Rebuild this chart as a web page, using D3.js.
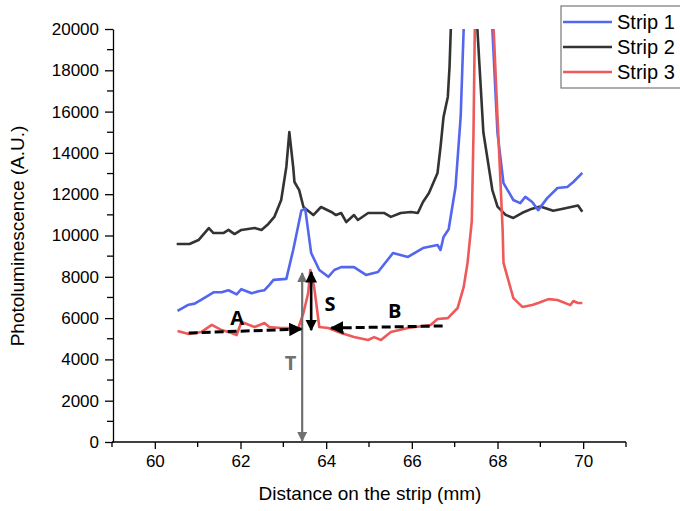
<!DOCTYPE html>
<html>
<head>
<meta charset="utf-8">
<script src="https://cdn.jsdelivr.net/npm/d3@7"></script>
<style>
  body { margin: 0; background: #fff; }
  svg { display: block; font-family: "Liberation Sans", Arial, sans-serif; }
</style>
</head>
<body>
<svg width="680" height="511"></svg>
<script>
// distance (mm) and photoluminescence values
let strip1X = [60.53, 60.79, 60.93, 61.09, 61.37, 61.56, 61.72, 61.91, 62.02, 62.26, 62.42, 62.56, 62.67, 62.77, 63.07, 63.23, 63.35, 63.42, 63.51, 63.65, 63.84, 64.05, 64.19, 64.35, 64.65, 64.93, 65.21, 65.56, 65.91, 66.26, 66.60, 66.67, 66.74, 66.86, 67.02, 67.14, 67.21, 67.55, 67.88, 68.0, 68.14, 68.37, 68.53, 68.65, 68.81, 68.95, 69.16, 69.40, 69.63, 69.77, 69.98]
let strip1Y = [6350, 6650, 6700, 6900, 7250, 7250, 7350, 7150, 7400, 7200, 7300, 7350, 7600, 7850, 7900, 9300, 10500, 11200, 11300, 9150, 8330, 8000, 8330, 8470, 8470, 8090, 8230, 9150, 8960, 9390, 9540, 9300, 9930, 10300, 12350, 15740, 20000, 30000, 20000, 14960, 12540, 11720, 11570, 11870, 11620, 11230, 11810, 12300, 12350, 12590, 13030]

let strip2X = [60.51, 60.81, 61.02, 61.26, 61.37, 61.60, 61.72, 61.86, 62.02, 62.33, 62.49, 62.65, 62.79, 62.95, 63.07, 63.14, 63.23, 63.26, 63.37, 63.47, 63.70, 63.88, 64.12, 64.23, 64.35, 64.47, 64.65, 64.74, 64.98, 65.35, 65.51, 65.74, 65.98, 66.14, 66.26, 66.40, 66.60, 66.67, 66.74, 66.84, 66.88, 66.91, 67.2, 67.53, 67.67, 67.88, 68.0, 68.19, 68.37, 68.58, 68.81, 69.0, 69.30, 69.53, 69.77, 69.88, 69.98]
let strip2Y = [9590, 9590, 9780, 10360, 10120, 10120, 10270, 10070, 10270, 10360, 10270, 10560, 10900, 11720, 13320, 15010, 13320, 12590, 12200, 11380, 10990, 11380, 11140, 10990, 11090, 10650, 10990, 10750, 11090, 11090, 10900, 11090, 11140, 11090, 11620, 12060, 13030, 14290, 15740, 16710, 18160, 20000, 30000, 20000, 15000, 12200, 11400, 11000, 10850, 11100, 11300, 11400, 11200, 11300, 11400, 11450, 11150]

let strip3X = [60.53, 60.79, 61.09, 61.33, 61.56, 61.79, 61.91, 62.02, 62.33, 62.56, 62.67, 62.95, 63.35, 63.47, 63.58, 63.63, 63.72, 63.84, 64.05, 64.35, 64.65, 64.98, 65.12, 65.28, 65.51, 65.91, 66.44, 66.60, 66.84, 67.07, 67.21, 67.30, 67.40, 67.44, 67.47, 67.68, 67.91, 68.0, 68.12, 68.14, 68.37, 68.58, 68.81, 68.95, 69.19, 69.40, 69.70, 69.77, 69.88, 69.98]
let strip3Y = [5375, 5230, 5330, 5670, 5420, 5280, 5180, 5810, 5570, 5760, 5570, 5520, 5520, 6250, 7215, 8330, 7500, 5570, 5520, 5280, 5080, 4940, 5080, 4940, 5330, 5520, 5670, 5960, 6000, 6490, 7500, 8670, 10700, 15000, 20000, 30000, 20000, 15740, 10270, 8670, 6970, 6540, 6630, 6730, 6920, 6880, 6630, 6830, 6730, 6730]

let names = ["Strip 1", "Strip 2", "Strip 3"]
let colors = ["#5566ee", "#333333", "#ee5a5a"]

let xTicks = [60, 62, 64, 66, 68, 70]
let yTicks = [0, 2000, 4000, 6000, 8000, 10000, 12000, 14000, 16000, 18000, 20000]

// annotation arrows (mm, value)
let arrowA = [[60.79, 5280], [63.42, 5470]]
let arrowB = [[66.72, 5620], [64.12, 5520]]
let arrowS = [63.65, 8230, 5420]
let arrowT = [63.44, 8180, 0]

var svg = d3.select("svg")

var x = d3.scaleLinear().domain([59, 71]).range([112, 626])
var y = d3.scaleLinear().domain([0, 20000]).range([442, 29])

// arrowheads
var defs = svg.append("defs")
function marker(id, color) {
  defs.append("marker")
    .attr("id", id)
    .attr("viewBox", "0 0 10 10")
    .attr("refX", 9).attr("refY", 5)
    .attr("markerWidth", 4.5).attr("markerHeight", 4.5)
    .attr("markerUnits", "strokeWidth")
    .attr("orient", "auto-start-reverse")
    .append("path")
    .attr("d", "M0,0 L10,5 L0,10 z")
    .attr("fill", color)
}
marker("headK", "#000")
marker("headG", "#707070")

defs.append("clipPath").attr("id", "plot")
  .append("rect").attr("x", 112).attr("y", 29).attr("width", 514).attr("height", 413)

// axes
var xAxis = d3.axisBottom(x).tickValues(xTicks).tickSize(7).tickSizeOuter(0).tickPadding(6)
var gx = svg.append("g").attr("transform", "translate(0,442)").call(xAxis)
gx.selectAll(".tick text").attr("font-size", 17).attr("font-family", "Liberation Sans, Arial, sans-serif")
gx.selectAll("line").attr("stroke-width", 1.3)
gx.select(".domain").attr("stroke-width", 1.3).attr("d", "M" + x(59) + ",0H" + x(71))
gx.selectAll(".minor").data([59, 61, 63, 65, 67, 69, 71]).enter().append("line")
  .attr("x1", d => x(d)).attr("x2", d => x(d)).attr("y1", 0).attr("y2", 5)
  .attr("stroke", "#000").attr("stroke-width", 1.3)

var yAxis = d3.axisLeft(y).tickValues(yTicks).tickFormat(d3.format("d"))
  .tickSize(8).tickSizeOuter(0).tickPadding(6)
var gy = svg.append("g").attr("transform", "translate(113,0)").call(yAxis)
gy.selectAll(".tick text").attr("font-size", 17).attr("font-family", "Liberation Sans, Arial, sans-serif")
gy.selectAll("line").attr("stroke-width", 1.3)
gy.select(".domain").attr("stroke-width", 1.3)
gy.selectAll(".minor").data(d3.range(1000, 20000, 2000)).enter().append("line")
  .attr("x1", -6).attr("x2", 0).attr("y1", d => y(d)).attr("y2", d => y(d))
  .attr("stroke", "#000").attr("stroke-width", 1.3)

// axis titles
svg.append("text")
  .attr("x", 370).attr("y", 500)
  .attr("text-anchor", "middle")
  .attr("font-size", 19)
  .text("Distance on the strip (mm)")

svg.append("text")
  .attr("transform", "translate(24,236) rotate(-90)")
  .attr("text-anchor", "middle")
  .attr("font-size", 19)
  .text("Photoluminescence (A.U.)")

// lines
var line = d3.line().x(d => x(d[0])).y(d => y(d[1]))
var series = [
  d3.zip(strip1X, strip1Y),
  d3.zip(strip2X, strip2Y),
  d3.zip(strip3X, strip3Y)
]
var plot = svg.append("g").attr("clip-path", "url(#plot)")
// draw order: strip 2 behind, then 1, then 3
;[1, 0, 2].forEach(i => {
  plot.append("path")
    .datum(series[i])
    .attr("fill", "none")
    .attr("stroke", colors[i])
    .attr("stroke-width", 2.6)
    .attr("stroke-linejoin", "round")
    .attr("d", line)
})

// annotations
svg.append("line")
  .attr("x1", x(arrowT[0])).attr("x2", x(arrowT[0]))
  .attr("y1", y(arrowT[2]) - 1).attr("y2", y(arrowT[1]))
  .attr("stroke", "#707070").attr("stroke-width", 2.2)
  .attr("marker-start", "url(#headG)").attr("marker-end", "url(#headG)")

svg.append("line")
  .attr("x1", x(arrowS[0])).attr("x2", x(arrowS[0]))
  .attr("y1", y(arrowS[1])).attr("y2", y(arrowS[2]))
  .attr("stroke", "#000").attr("stroke-width", 2.6)
  .attr("marker-start", "url(#headK)").attr("marker-end", "url(#headK)")

;[arrowA, arrowB].forEach(a => {
  svg.append("line")
    .attr("x1", x(a[0][0])).attr("y1", y(a[0][1]))
    .attr("x2", x(a[1][0])).attr("y2", y(a[1][1]))
    .attr("stroke", "#000").attr("stroke-width", 3)
    .attr("stroke-dasharray", "9,4")
    .attr("marker-end", "url(#headK)")
})

var labels = [
  ["A", 61.92, 5670, "#000"],
  ["B", 65.6, 6000, "#000"],
  ["S", 64.09, 6340, "#000"],
  ["T", 63.17, 3490, "#707070"]
]
svg.selectAll(".ann").data(labels).enter().append("text")
  .attr("x", d => x(d[1])).attr("y", d => y(d[2]))
  .attr("text-anchor", "middle")
  .attr("font-size", 20).attr("font-weight", "bold")
  .attr("font-family", "Open Sans, Liberation Sans, sans-serif")
  .attr("fill", d => d[3])
  .text(d => d[0])

// legend
var leg = svg.append("g")
leg.append("rect")
  .attr("x", 561).attr("y", 6).attr("width", 130).attr("height", 82)
  .attr("fill", "#fff").attr("stroke", "#777").attr("stroke-width", 1.2)
names.forEach((n, i) => {
  var ly = 22 + i * 25
  leg.append("line").attr("x1", 563).attr("x2", 612).attr("y1", ly).attr("y2", ly)
    .attr("stroke", colors[i]).attr("stroke-width", 2.6)
  leg.append("text").attr("x", 617).attr("y", ly + 7)
    .attr("font-size", 20).text(n)
})
</script>
</body>
</html>
